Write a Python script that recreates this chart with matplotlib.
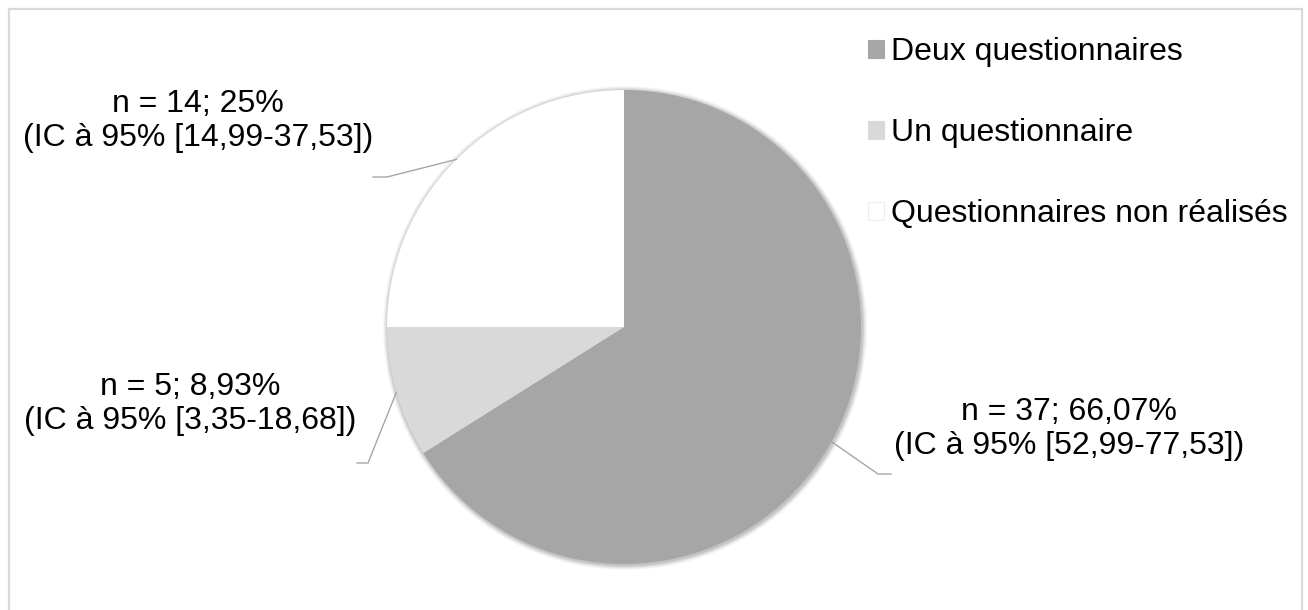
import matplotlib
matplotlib.use('Agg')
import matplotlib.pyplot as plt
from matplotlib.patches import Patch, Circle
import numpy as np

# Données
categories = ['Deux questionnaires', 'Un questionnaire', 'Questionnaires non réalisés']
effectifs = [37, 5, 14]
pourcentages = ['66,07%', '8,93%', '25%']
ic95 = ['[52,99-77,53]', '[3,35-18,68]', '[14,99-37,53]']
couleurs = ['#a6a6a6', '#d9d9d9', '#ffffff']

W, H = 1308, 610
plt.rcParams['font.family'] = ['Liberation Sans', 'DejaVu Sans']
FS = 23

fig = plt.figure(figsize=(W / 100, H / 100), dpi=100)
ax = fig.add_axes([0, 0, 1, 1])

# cadre du graphique (bordure grise, sans bas)
ax.plot([8.5, 8.5, 1301.5, 1301.5], [-5, H - 8.5, H - 8.5, -5],
        color='#d9d9d9', lw=1.6, solid_joinstyle='miter', zorder=0)

centre = (624, H - 327)
rayon = 237

# ombre douce autour du camembert
for i, a in enumerate([0.03, 0.04, 0.05, 0.06, 0.07]):
    ax.add_patch(Circle((centre[0] + 1, centre[1] - 1), rayon + 5 - i,
                        color='black', alpha=a, lw=0, zorder=1))

wedges, _ = ax.pie(effectifs, colors=couleurs, startangle=90, counterclock=False,
                   center=centre, radius=rayon, frame=True,
                   wedgeprops=dict(edgecolor='none', zorder=2))
ax.set_xlim(0, W)
ax.set_ylim(0, H)
ax.set_aspect('equal')
ax.axis('off')

# étiquettes : position du texte et coude de la ligne de rappel (pixels)
pos_texte = [(1069, 429), (190, 404), (198, 121)]
coude = [(878, 474), (368, 463), (387, 177)]
fin = [(891, 474), (357, 463), (373, 177)]

for w, n, p, ic, t, c, f in zip(wedges, effectifs, pourcentages, ic95, pos_texte, coude, fin):
    ang = np.deg2rad((w.theta1 + w.theta2) / 2)
    x0 = centre[0] + rayon * np.cos(ang)
    y0 = centre[1] + rayon * np.sin(ang)
    ax.plot([x0, c[0], f[0]], [y0, H - c[1], H - f[1]], color='#a6a6a6', lw=1, zorder=3)
    ax.text(t[0], H - t[1], f'n = {n}; {p}\n(IC à 95% {ic})', ha='center', va='center',
            fontsize=FS, color='black', linespacing=1.17)

# légende
handles = [Patch(facecolor=col, edgecolor=('#eeeeee' if col == '#ffffff' else col), lw=0.8)
           for col in couleurs]
leg = ax.legend(handles, categories, loc='upper left', bbox_to_anchor=(868 / W, 1 - 37 / H),
                frameon=False, fontsize=FS, handlelength=0.5, handleheight=0.5,
                handletextpad=0.22, labelspacing=1.6, borderpad=0, borderaxespad=0)

fig.savefig('out.png', dpi=100)
plt.close(fig)
